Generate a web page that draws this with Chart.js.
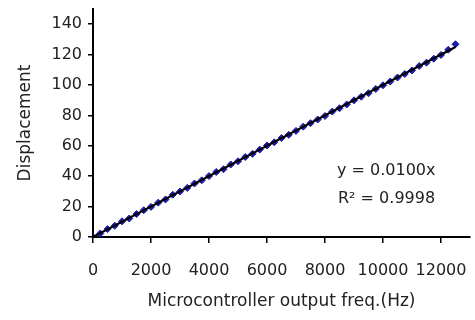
<!DOCTYPE html>
<html><head><meta charset="utf-8">
<script src="https://cdn.jsdelivr.net/npm/chart.js@4"></script>
<style>html,body{margin:0;padding:0;background:#fff}#wrap{width:475px;height:320px}</style>
</head><body><div id="wrap"><canvas id="c" width="475" height="320"></canvas></div>
<script>
const freqHz = [0,250,500,750,1000,1250,1500,1750,2000,2250,2500,2750,3000,3250,3500,3750,4000,4250,4500,4750,5000,5250,5500,5750,6000,6250,6500,6750,7000,7250,7500,7750,8000,8250,8500,8750,9000,9250,9500,9750,10000,10250,10500,10750,11000,11250,11500,11750,12000,12250,12500];
const displacement = [0,2.3,5.2,7.4,10.3,12.2,15.1,17.6,19.8,22.6,24.7,27.8,29.9,32.3,35.2,37.3,40.1,42.8,44.6,47.7,49.8,52.6,54.7,57.5,60.2,62.3,65.1,67.2,69.8,72.6,74.9,77.3,79.6,82.5,84.7,87.2,89.9,92.3,94.6,97.4,99.8,102.3,104.9,107.2,109.6,112.5,114.7,117.3,119.8,123.2,126.8];
const trendX = [0,12500];
const trendY = [0,125];
const xTicks = [0,2000,4000,6000,8000,10000,12000];
const yTicks = [0,20,40,60,80,100,120,140];
const eqLines = ["y = 0.0100x", "R² = 0.9998"];

const FONT = "DejaVu Sans";
const TXT = "#222";

const annot = {
  id:'annot',
  afterDraw(chart){
    const ctx = chart.ctx;
    ctx.save();
    ctx.fillStyle = TXT;
    ctx.font = "16px '" + FONT + "'";
    ctx.textBaseline = 'middle';
    ctx.fillText(eqLines[0], 337, 171);
    ctx.fillText(eqLines[1], 338, 199);
    ctx.restore();
  }
};

new Chart(document.getElementById('c'), {
  type:'scatter',
  data:{
    datasets:[
      {label:'trend', type:'line', data:trendX.map((x,i)=>({x, y:trendY[i]})), borderColor:'#000', borderWidth:2, pointRadius:0, fill:false, order:0},
      {label:'data', data:freqHz.map((x,i)=>({x, y:displacement[i]})), pointStyle:'rectRot', pointRadius:3.5, backgroundColor:'#1c1ca8', borderColor:'#1c1ca8', borderWidth:1, order:1}
    ]
  },
  options:{
    responsive:false, animation:false,
    layout:{padding:{top:9, right:5, left:0, bottom:0}},
    plugins:{legend:{display:false}, tooltip:{enabled:false}},
    scales:{
      x:{type:'linear', min:0, max:13000,
        afterBuildTicks(s){ s.ticks = xTicks.map(v=>({value:v})); },
        afterFit(s){ s.height = 83; s.paddingRight = 0; s.paddingLeft = 0; },
        grid:{drawOnChartArea:false, drawTicks:true, tickLength:6, color:'#000', lineWidth:1.5},
        border:{color:'#000', width:2},
        ticks:{color:TXT, font:{family:FONT, size:16}, padding:18, maxRotation:0, autoSkip:false, callback:v=>String(v)},
        title:{display:true, text:'Microcontroller output freq.(Hz)', color:TXT, font:{family:FONT, size:17}, padding:{top:6,bottom:8}}
      },
      y:{type:'linear', min:0, max:150,
        afterBuildTicks(s){ s.ticks = yTicks.map(v=>({value:v})); },
        afterFit(s){ s.width = 93; s.paddingTop = 0; s.paddingBottom = 0; },
        grid:{drawOnChartArea:false, drawTicks:true, tickLength:5, color:'#000', lineWidth:1.5},
        border:{color:'#000', width:2},
        ticks:{color:TXT, font:{family:FONT, size:16}, padding:6, autoSkip:false, callback:v=>String(v)},
        title:{display:true, text:'Displacement', color:TXT, font:{family:FONT, size:17}, padding:{top:15,bottom:6}}
      }
    }
  },
  plugins:[annot]
});
</script></body></html>
